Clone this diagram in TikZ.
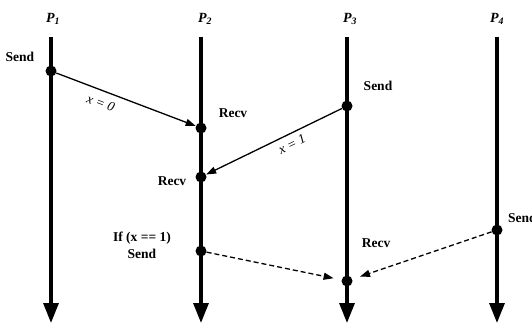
\documentclass[tikz,border=0pt]{standalone}
\usepackage{fontspec}
\setmainfont{Liberation Serif}
\usetikzlibrary{arrows.meta, positioning}

\begin{document}
\begin{tikzpicture}[
  x=1pt, y=-1pt,
  procLine/.style={line width=3.2pt, -{Triangle[length=20pt, width=15pt]}},
  msgLine/.style={line width=1.3pt, -{Triangle[length=10pt, width=7pt]}},
  lateMsg/.style={msgLine, dash pattern=on 5pt off 3pt, shorten >=8pt},
  event/.style={circle, fill=black, inner sep=0pt, minimum size=11pt},
  procName/.style={font=\fontsize{14}{16}\selectfont\bfseries\itshape, inner sep=0pt},
  evLabel/.style={font=\fontsize{13.5}{17}\selectfont\bfseries, align=center, inner sep=0pt},
  msgLabel/.style={font=\fontsize{13.5}{15}\selectfont\itshape, inner sep=0pt}
]
\useasboundingbox (0,0) rectangle (532,324);

% processes
\node[procName] (p1) at (53,19) {P\textsubscript{1}};
\node[procName] (p2) at (205,19) {P\textsubscript{2}};
\node[procName] (p3) at (350,19) {P\textsubscript{3}};
\node[procName] (p4) at (497,19) {P\textsubscript{4}};
\coordinate (p1top) at (51,37);
\coordinate (p2top) at (201,37);
\coordinate (p3top) at (347,37);
\coordinate (p4top) at (497,37);
\coordinate (p1end) at (51,323);
\coordinate (p2end) at (201,323);
\coordinate (p3end) at (347,323);
\coordinate (p4end) at (497,323);
\draw[procLine] (p1top) -- (p1end);
\draw[procLine] (p2top) -- (p2end);
\draw[procLine] (p3top) -- (p3end);
\draw[procLine] (p4top) -- (p4end);

% events
\node[event] (send1) at (51,71) {};
\node[event] (recv1) at (201,128) {};
\node[event] (send3) at (347,106) {};
\node[event] (recv2) at (201,177) {};
\node[event] (send2) at (201,251) {};
\node[event] (recv3) at (347,281) {};
\node[event] (send4) at (497,230) {};

\node[evLabel] at (20,57) {Send};
\node[evLabel] at (233,113) {Recv};
\node[evLabel] at (378,86) {Send};
\node[evLabel] at (172,181) {Recv};
\node[evLabel] at (142,245) {If (x == 1)\\Send};
\node[evLabel] at (376,243) {Recv};
\node[evLabel, anchor=west] at (508,218) {Send};

% messages
\draw[msgLine] (send1) -- (recv1) node[msgLabel, pos=0.35, sloped, below=7pt] {x = 0};
\draw[msgLine] (send3) -- (recv2) node[msgLabel, pos=0.4, sloped, below=5pt] {x = 1};
\draw[lateMsg] (send2) -- (recv3);
\draw[lateMsg] (send4) -- (recv3);
\end{tikzpicture}
\end{document}
